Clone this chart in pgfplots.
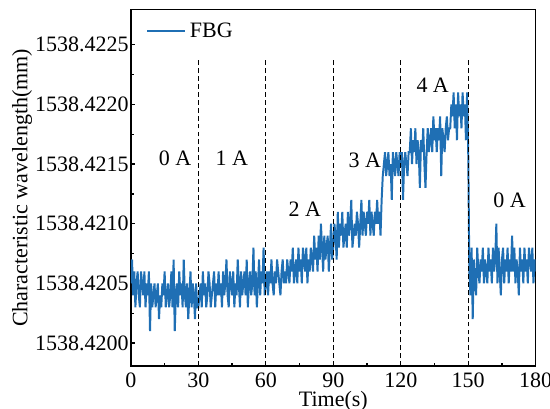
\documentclass[border=0pt]{standalone}
\usepackage{pgfplots}
\pgfplotsset{compat=1.18}
\usepackage{fontspec}
\setmainfont{Liberation Serif}
\definecolor{fbg}{RGB}{31,111,180}
\begin{document}
\begin{tikzpicture}
\begin{axis}[
  scale only axis, width=184pt, height=162pt,
  xmin=0, xmax=180, ymin=-1.93, ymax=27.94,
  xtick={0,30,60,90,120,150,180},
  xticklabels={\textrm{0},\textrm{30},\textrm{60},\textrm{90},\textrm{120},\textrm{150},\textrm{180}},
  xticklabel style={inner ysep=0.5pt, yshift=-2.2pt},
  ytick={0,5,10,15,20,25},
  yticklabels={\textrm{1538.4200},\textrm{1538.4205},\textrm{1538.4210},\textrm{1538.4215},\textrm{1538.4220},\textrm{1538.4225}},
  yticklabel style={xshift=2.5pt},
  minor x tick num=1, minor y tick num=1,
  tick align=inside, xtick pos=left, ytick pos=left,
  major tick length=2pt, minor tick length=1.5pt,
  every tick/.style={black, line width=0.6pt},
  axis line style={line width=0.6pt},
  /pgf/number format/assume math mode=true,
  xlabel={\rmfamily Time(s)}, ylabel={\rmfamily Characteristic wavelength(mm)},
  xlabel style={inner sep=0pt, yshift=-1.3pt},
  ylabel style={yshift=-5.5pt},
  legend style={draw=none, fill=none, at={(0.02,0.99)}, anchor=north west, font=\normalsize},
  legend cell align=left,
]
\addplot[fbg, line width=0.9pt] coordinates {
(0,5)(0.5,7)(1,4)(1.5,6)(2,3)(2.5,5)(3,6)(3.5,4)(4,3)(4.5,6)(5,5)(5.5,4)(6,6)(6.5,3)(7,5)(7.5,4)(8,6)(8.5,1)(9,5)(9.5,3)
(10,4)(10.5,5)(11,3)(11.5,4)(12,5)(12.5,2)(13,4)(13.5,3)(14,5)(14.5,4)(15,6)(15.5,3)(16,4)(16.5,5)(17,3)(17.5,4)(18,6)(18.5,3)(19,7)(19.5,1)
(20,4)(20.5,5)(21,3)(21.5,6)(22,4)(22.5,5)(23,3)(23.5,7)(24,4)(24.5,3)(25,5)(25.5,2)(26,4)(26.5,6)(27,3)(27.5,5)(28,4)(28.5,2)(29,5)(29.5,3)
(30,3)(30.5,4)(31,5)(31.5,3)(32,6)(32.5,4)(33,5)(33.5,3)(34,4)(34.5,6)(35,5)(35.5,3)(36,4)(36.5,5)(37,6)(37.5,3)(38,5)(38.5,4)(39,6)(39.5,4)
(40,5)(40.5,3)(41,6)(41.5,4)(42,5)(42.5,7)(43,4)(43.5,3)(44,6)(44.5,5)(45,4)(45.5,6)(46,3)(46.5,5)(47,4)(47.5,7)(48,5)(48.5,3)(49,6)(49.5,4)
(50,5)(50.5,6)(51,4)(51.5,7)(52,3)(52.5,5)(53,6)(53.5,4)(54,5)(54.5,8)(55,4)(55.5,6)(56,3)(56.5,5)(57,7)(57.5,4)(58,6)(58.5,5)(59,8)(59.5,4)
(60,5)(60.5,6)(61,4)(61.5,6)(62,5)(62.5,7)(63,5)(63.5,4)(64,6)(64.5,5)(65,7)(65.5,6)(66,5)(66.5,4)(67,6)(67.5,7)(68,5)(68.5,6)(69,5)(69.5,7)
(70,6)(70.5,5)(71,7)(71.5,6)(72,8)(72.5,5)(73,6)(73.5,7)(74,5)(74.5,8)(75,6)(75.5,7)(76,5)(76.5,8)(77,7)(77.5,6)(78,8)(78.5,5)(79,7)(79.5,6)
(80,8)(80.5,7)(81,6)(81.5,9)(82,7)(82.5,8)(83,6)(83.5,9)(84,7)(84.5,10)(85,8)(85.5,6)(86,9)(86.5,7)(87,8)(87.5,9)(88,6)(88.5,8)(89,10)(89.5,7)
(90,8)(90.5,10)(91,9)(91.5,7)(92,11)(92.5,8)(93,10)(93.5,9)(94,11)(94.5,8)(95,9)(95.5,10)(96,8)(96.5,11)(97,9)(97.5,10)(98,12)(98.5,8)(99,9)(99.5,10)
(100,9)(100.5,11)(101,10)(101.5,8)(102,10)(102.5,12)(103,9)(103.5,11)(104,10)(104.5,9)(105,11)(105.5,10)(106,12)(106.5,9)(107,11)(107.5,10)(108,9)(108.5,11)(109,10)(109.5,12)
(110,10)(110.5,11)(111,9)(111.5,12)(112,14)(112.5,15)(113,16)(113.5,14)(114,15)(114.5,16)(115,14)(115.5,15)(116,12)(116.5,16)(117,15)(117.5,14)(118,16)(118.5,15)(119,14)(119.5,16)
(120,15)(120.5,16)(121,12)(121.5,15)(122,16)(122.5,15)(123,14)(123.5,16)(124,16)(124.5,18)(125,15)(125.5,17)(126,16)(126.5,18)(127,15)(127.5,17)(128,16)(128.5,13)(129,17)(129.5,16)
(130,18)(130.5,15)(131,13)(131.5,16)(132,18)(132.5,16)(133,17)(133.5,18)(134,16)(134.5,19)(135,17)(135.5,18)(136,16)(136.5,18)(137,17)(137.5,19)(138,14)(138.5,18)(139,17)(139.5,16)
(140,18)(140.5,19)(141,17)(141.5,18)(142,18)(142.5,20)(143,19)(143.5,21)(144,18)(144.5,20)(145,17)(145.5,21)(146,19)(146.5,20)(147,18)(147.5,21)(148,19)(148.5,20)(149,17)(149.5,21)
(150,16)(150.5,6)(151,4)(151.5,8)(152,2)(152.5,7)(153,5)(153.5,4)(154,8)(154.5,6)(155,5)(155.5,7)(156,6)(156.5,8)(157,5)(157.5,7)(158,6)(158.5,5)(159,8)(159.5,6)
(160,7)(160.5,5)(161,8)(161.5,6)(162,7)(162.5,10)(163,5)(163.5,8)(164,6)(164.5,4)(165,7)(165.5,8)(166,5)(166.5,7)(167,6)(167.5,8)(168,5)(168.5,7)(169,6)(169.5,9)
(170,6)(170.5,8)(171,5)(171.5,7)(172,6)(172.5,4)(173,8)(173.5,6)(174,7)(174.5,5)(175,8)(175.5,6)(176,7)(176.5,5)(177,8)(177.5,7)(178,6)(178.5,8)(179,5)(179.5,7)
(180,6)
};
\addlegendentry{FBG}
\addplot[black, line width=0.6pt, dash pattern=on 2.2pt off 1.4pt, forget plot] coordinates {(30,-1.93)(30,23.7)};
\addplot[black, line width=0.6pt, dash pattern=on 2.2pt off 1.4pt, forget plot] coordinates {(60,-1.93)(60,23.7)};
\addplot[black, line width=0.6pt, dash pattern=on 2.2pt off 1.4pt, forget plot] coordinates {(90,-1.93)(90,23.7)};
\addplot[black, line width=0.6pt, dash pattern=on 2.2pt off 1.4pt, forget plot] coordinates {(120,-1.93)(120,23.7)};
\addplot[black, line width=0.6pt, dash pattern=on 2.2pt off 1.4pt, forget plot] coordinates {(150,-1.93)(150,23.7)};
\node at (axis cs:19.6,15.5) {0 A};
\node at (axis cs:44.9,15.5) {1 A};
\node at (axis cs:77.3,11.2) {2 A};
\node at (axis cs:104,15.35) {3 A};
\node at (axis cs:134.2,21.6) {4 A};
\node at (axis cs:168.4,12.0) {0 A};
\end{axis}
\pgfresetboundingbox
\path (current axis.south west) ++(-59.5pt,-19.5pt) rectangle ++(250pt,185.9pt);
\end{tikzpicture}
\end{document}
